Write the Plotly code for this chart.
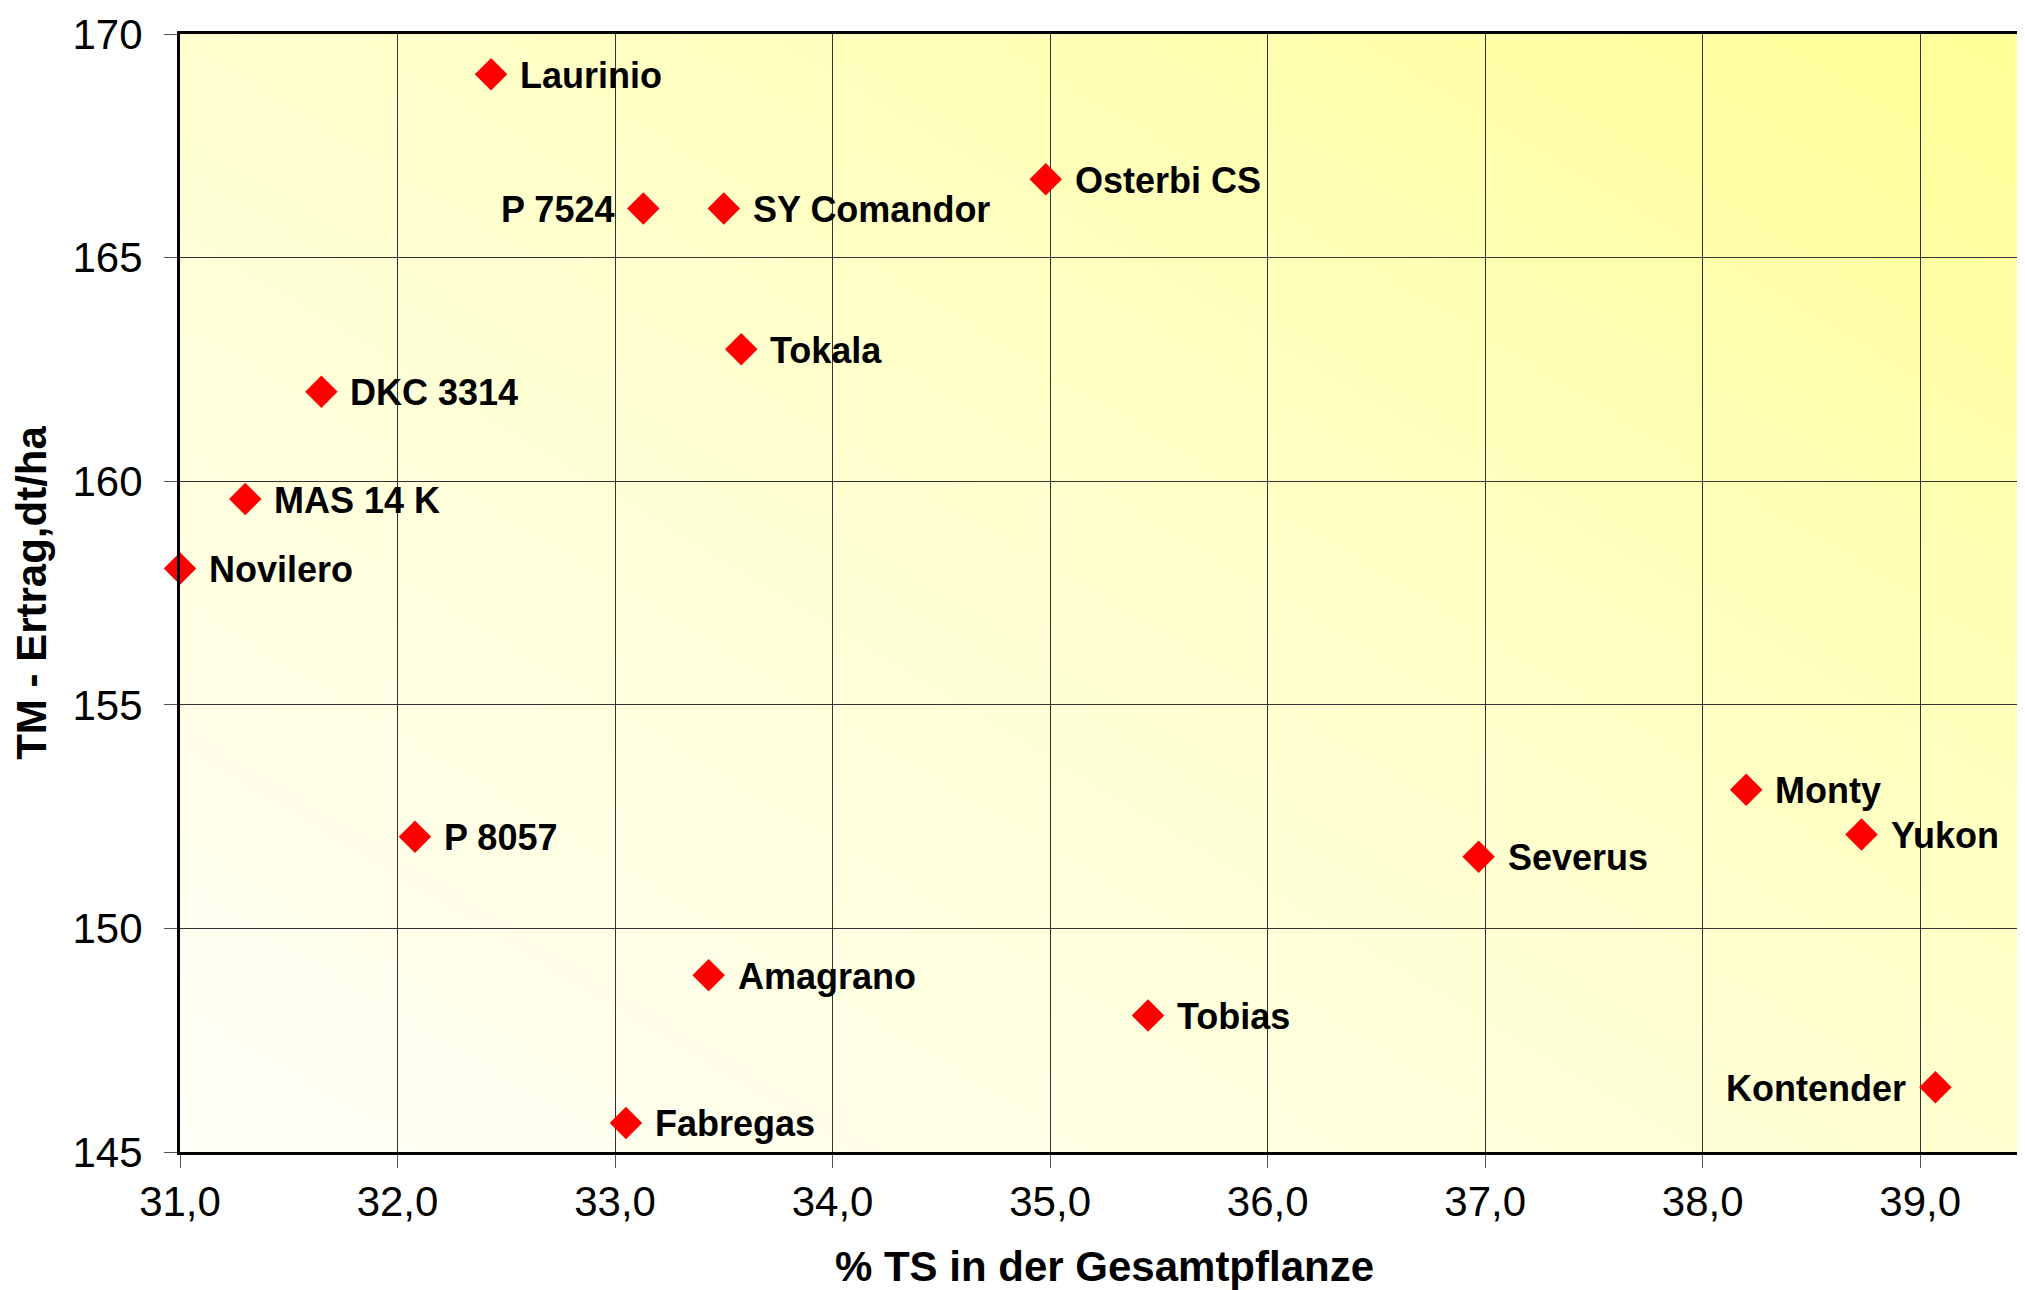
import base64
import plotly.graph_objects as go

names = ["Laurinio", "P 7524", "SY Comandor", "Osterbi CS", "Tokala", "DKC 3314",
         "MAS 14 K", "Novilero", "P 8057", "Amagrano", "Fabregas", "Tobias",
         "Severus", "Monty", "Yukon", "Kontender"]
ts = [32.43, 33.13, 33.50, 34.98, 33.58, 31.65, 31.30, 31.00, 32.08, 33.43,
      33.05, 35.45, 36.97, 38.20, 38.73, 39.07]
ertrag = [169.1, 166.1, 166.1, 166.75, 162.95, 162.0, 159.6, 158.05, 152.05,
          148.95, 145.65, 148.05, 151.6, 153.1, 152.1, 146.45]
label_side = ["right", "left", "right", "right", "right", "right", "right", "right",
              "right", "right", "right", "right", "right", "right", "right", "left"]

x_ticks = [31, 32, 33, 34, 35, 36, 37, 38, 39]
y_ticks = [145, 150, 155, 160, 165, 170]

FONT = "Liberation Sans, Arial, sans-serif"

svg = ('<svg xmlns="http://www.w3.org/2000/svg" width="100" height="100" '
       'preserveAspectRatio="none" viewBox="0 0 100 100">'
       '<defs><linearGradient id="g" x1="0" y1="1" x2="1" y2="0">'
       '<stop offset="0" stop-color="#FFFFF8"/>'
       '<stop offset="0.5" stop-color="#FFFFD0"/>'
       '<stop offset="1" stop-color="#FFFF96"/>'
       '</linearGradient></defs>'
       '<rect x="0" y="0" width="100" height="100" fill="url(#g)"/></svg>')
src = "data:image/svg+xml;base64," + base64.b64encode(svg.encode()).decode()

fig = go.Figure()
fig.add_trace(go.Scatter(
    x=ts, y=ertrag, mode="markers",
    marker=dict(symbol="diamond", size=25, color="#FF0000", line=dict(width=0)),
    hovertext=names, hoverinfo="text+x+y", cliponaxis=False,
))

for n, xv, yv, side in zip(names, ts, ertrag, label_side):
    fig.add_annotation(
        x=xv, y=yv, text=n, showarrow=False,
        xanchor="left" if side == "right" else "right",
        xshift=27 if side == "right" else -27,
        yshift=-1,
        font=dict(family=FONT, size=36, color="black", weight="bold"),
    )

fig.add_layout_image(dict(
    source=src, xref="paper", yref="paper", x=0, y=1, sizex=1, sizey=1,
    sizing="stretch", layer="below", xanchor="left", yanchor="top",
))

fig.update_layout(
    width=2025, height=1290,
    margin=dict(l=172, r=4, t=26, b=146, autoexpand=False),
    paper_bgcolor="white", plot_bgcolor="rgba(0,0,0,0)",
    showlegend=False, separators=",.",
    font=dict(family=FONT, color="black"),
)
fig.update_xaxes(
    range=[31, 39.5], tickvals=x_ticks, tickformat=".1f", automargin=False,
    showgrid=True, gridcolor="#333333", gridwidth=1,
    showline=True, linecolor="black", linewidth=3, mirror=True,
    ticks="outside", ticklen=13, tickcolor="#555555", tickwidth=1,
    tickfont=dict(size=42, family=FONT), ticklabelstandoff=-2,
    zeroline=False,
    title=dict(text="% TS in der Gesamtpflanze", standoff=28,
               font=dict(size=42, family=FONT, weight="bold")),
)
fig.update_yaxes(
    range=[145, 170], tickvals=y_ticks, automargin=False,
    showgrid=True, gridcolor="#333333", gridwidth=1,
    showline=True, linecolor="black", linewidth=3, mirror=True,
    ticks="outside", ticklen=13, tickcolor="#555555", tickwidth=1,
    tickfont=dict(size=42, family=FONT), ticklabelstandoff=13,
    zeroline=False,
    title=dict(text="TM - Ertrag,dt/ha", standoff=28,
               font=dict(size=42, family=FONT, weight="bold")),
)

fig.write_html("out.html")
